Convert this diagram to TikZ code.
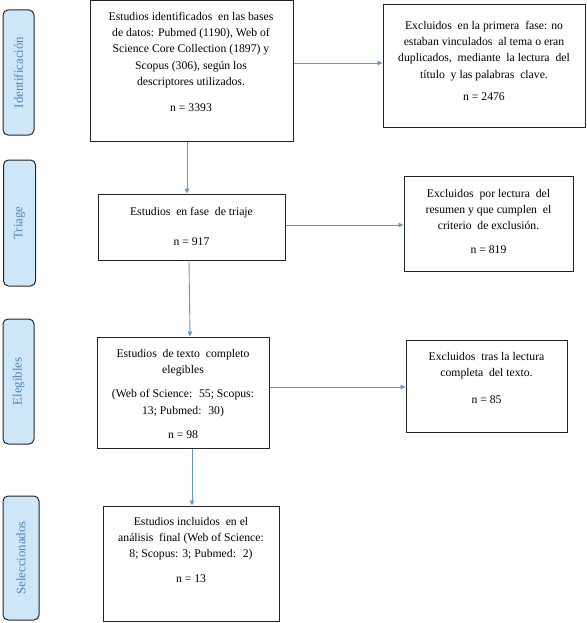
\documentclass[tikz,border=0pt]{standalone}
\usepackage{fontspec}
\setmainfont{Liberation Serif}
\usetikzlibrary{arrows.meta,calc}
\definecolor{phasefill}{HTML}{CDE7F9}
\definecolor{phasetext}{HTML}{4F81BD}
\definecolor{arrowblue}{HTML}{5B9BD5}
\definecolor{boxline}{HTML}{262626}
\tikzset{
  box/.style={draw=boxline, line width=1pt, fill=white, inner sep=0pt},
  txt/.style={anchor=north, inner sep=0pt, align=center,
    font=\fontsize{11.7}{16.3}\selectfont},
  phase/.style={draw=boxline, line width=1pt, fill=phasefill, rounded corners=5pt,
    text=phasetext, font=\fontsize{12.5}{14}\selectfont, inner sep=0pt},
  phasetxt/.style={rotate=90, text=phasetext, font=\fontsize{12.8}{14}\selectfont},
  conn/.style={draw=arrowblue, line width=0.9pt, -{Triangle[length=5pt,width=4.5pt]}}
}
\begin{document}
\begin{tikzpicture}[x=1pt,y=-1pt]
\useasboundingbox (0,0) rectangle (586,623);
% phase labels
\node[phase, minimum width=31pt, minimum height=125pt] (p1) at (18.5,72.5) {};
\node[phasetxt] (p1t) at (p1.center) {Identificación};
\node[phase, minimum width=32pt, minimum height=126pt] (p2) at (19.5,223) {};
\node[phasetxt] (p2t) at (p2.center) {Triage};
\node[phase, minimum width=31pt, minimum height=125pt] (p3) at (18.5,381.5) {};
\node[phasetxt] (p3t) at (p3.center) {Elegibles};
\node[phase, minimum width=36pt, minimum height=124pt] (p4) at (21,558) {};
\node[phasetxt] (p4t) at (p4.center) {Seleccionados};

% main boxes
\node[box, minimum width=203pt, minimum height=140pt] (b1) at (191.5,71) {};
\node[txt] (b1t) at (191,8.6) {\strut Estudios identificados \ en las bases\\de datos: Pubmed (1190), Web of\\Science Core Collection (1897) y\\Scopus (306), según los\\descriptores utilizados.\\[10pt]n = 3393};

\node[box, minimum width=202pt, minimum height=122pt] (e1) at (484,66) {};
\node[txt] (e1t) at (484,17.6) {\strut Excluidos \ en la primera \ fase: no\\estaban vinculados \ al tema o eran\\duplicados, \ mediante \ la lectura \ del\\título \ y las palabras \ clave.\\[6.5pt]n = 2476};

\node[box, minimum width=187pt, minimum height=66pt] (b2) at (191.5,227) {};
\node[txt] (b2t) at (191.5,203.6) {\strut Estudios \ en fase \ de triaje\\[14pt]n = 917};

\node[box, minimum width=169pt, minimum height=95pt] (e2) at (488.5,223.5) {};
\node[txt] (e2t) at (488.5,185.6) {\strut Excluidos \ por lectura \ del\\resumen y que cumplen \ el\\criterio \ de exclusión.\\[7pt]n = 819};

\node[box, minimum width=172pt, minimum height=111pt] (b3) at (183,392.5) {};
\node[txt] (b3t) at (183,345.6) {\strut Estudios \ de texto \ completo\\elegibles\\[8pt](Web of Science: \ 55; Scopus:\\13; Pubmed: \ 30)\\[8.5pt]n = 98};

\node[box, minimum width=161pt, minimum height=92pt] (e3) at (486.5,386) {};
\node[txt] (e3t) at (486.5,348.6) {\strut Excluidos \ tras la lectura\\completa \ del texto.\\[11pt]n = 85};

\node[box, minimum width=176pt, minimum height=115pt] (b4) at (191,563.5) {};
\node[txt] (b4t) at (191,513.6) {\strut Estudios incluidos \ en el\\análisis \ final (Web of Science:\\8; Scopus: 3; Pubmed: \ 2)\\[8pt]n = 13};

% connectors
\draw[conn] (b1.east |- 0,63) -- (e1.west |- 0,63);
\draw[conn] (b1.south -| 187,0) -- (b2.north -| 187,0);
\draw[conn] (b2.east |- 0,225) -- (e2.west |- 0,225);
\draw[conn] (b2.south -| 189,0) -- (b3.north -| 190,0);
\draw[conn] (b3.east |- 0,387) -- (e3.west |- 0,387);
\draw[conn] (b3.south -| 192,0) -- (b4.north -| 192,0);
\end{tikzpicture}
\end{document}
